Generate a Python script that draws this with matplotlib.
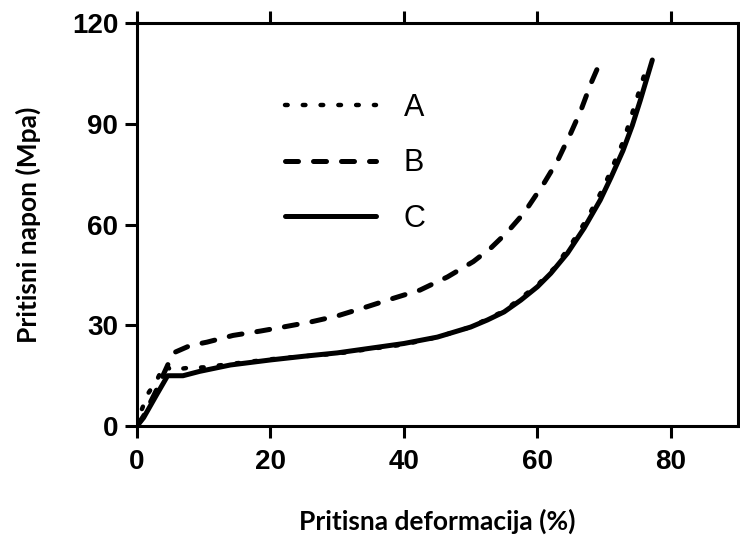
import matplotlib
matplotlib.use("Agg")
import matplotlib.pyplot as plt

# A (dotted)
x_a = [0, 0.7, 1.7, 3, 3.9, 4.4, 5, 7.5, 10, 14, 20, 25, 30, 35, 40, 45, 50,
       55, 60, 62.5, 65, 67.5, 70, 72.9, 75.9, 76.8]
y_a = [0, 4.8, 9.8, 13.7, 17.6, 18.3, 16.7, 17.3, 17.5, 18.5, 19.9, 20.8, 21.6,
       23, 24.3, 26.5, 29.5, 34.3, 42, 47, 54, 62, 71.5, 85, 104, 108]

# B (dashed)
x_b = [0, 1, 2, 3, 4, 4.8, 5.7, 8, 10.5, 14.4, 18.5, 21.9, 26, 30, 34.4, 38,
       42.4, 46.5, 50.4, 53, 55.5, 58, 61, 63, 65, 66.5, 68, 69]
y_b = [0, 3, 7, 11, 15.5, 19, 22, 24, 25, 27, 28.3, 29.5, 31, 32.8, 35.5, 37.8,
       40.5, 44.4, 49, 53, 57.8, 63.5, 72.4, 79, 87.3, 94, 102, 106.6]

# C (solid)
x_c = [0, 1, 2, 3, 4.6, 6.9, 9.4, 14, 20, 25, 30, 35, 40, 45, 50, 52.5, 55,
       57.5, 60, 62, 64.5, 67, 69.4, 71, 72.8, 74.2, 75.4, 76.3, 77.2]
y_c = [0, 2.5, 6, 9.5, 15, 15, 16.3, 18.2, 19.7, 20.8, 21.8, 23.2, 24.6, 26.5,
       29.5, 31.6, 34, 37.5, 41.5, 45.5, 51.5, 59, 67.3, 74, 82, 89.5, 97, 103, 109]

x_ticks = [0, 20, 40, 60, 80]
y_ticks = [0, 30, 60, 90, 120]

fig = plt.figure(figsize=(7.4, 5.36), dpi=100)
ax = fig.add_axes([0.185, 0.205, 0.812, 0.752])

ax.plot(x_c, y_c, color="black", lw=3.6, solid_capstyle="round", label="C")
ax.plot(x_b, y_b, color="black", lw=3.6, dashes=(2.6, 3.0), dash_capstyle="round", label="B")
ax.plot(x_a, y_a, color="black", lw=3.2, dashes=(0.6, 3.4), dash_capstyle="round", label="A")

ax.set_xlim(0, 90)
ax.set_ylim(0, 120)
ax.set_xticks(x_ticks)
ax.set_yticks(y_ticks)

for s in ax.spines.values():
    s.set_linewidth(2.2)
ax.tick_params(axis="both", width=2.2, length=8.5, labelsize=20)
ax.tick_params(axis="x", top=True, pad=8)
ax.tick_params(axis="y", pad=5)
for lab in ax.get_xticklabels() + ax.get_yticklabels():
    lab.set_fontfamily("Liberation Sans")
    lab.set_fontweight("bold")

ax.set_xlabel("Pritisna deformacija (%)", family="Lato", fontweight="bold",
              fontsize=19, labelpad=24)
ax.set_ylabel("Pritisni napon (Mpa)", family="Lato", fontweight="bold",
              fontsize=19, labelpad=22)

h, l = ax.get_legend_handles_labels()
leg = ax.legend(h[::-1], l[::-1], frameon=False, loc="upper left",
                bbox_to_anchor=(0.2, 0.895), prop={"family": "Liberation Sans", "size": 22},
                handlelength=3.0, handletextpad=0.9, labelspacing=0.83)

fig.savefig("out.png", dpi=100)
